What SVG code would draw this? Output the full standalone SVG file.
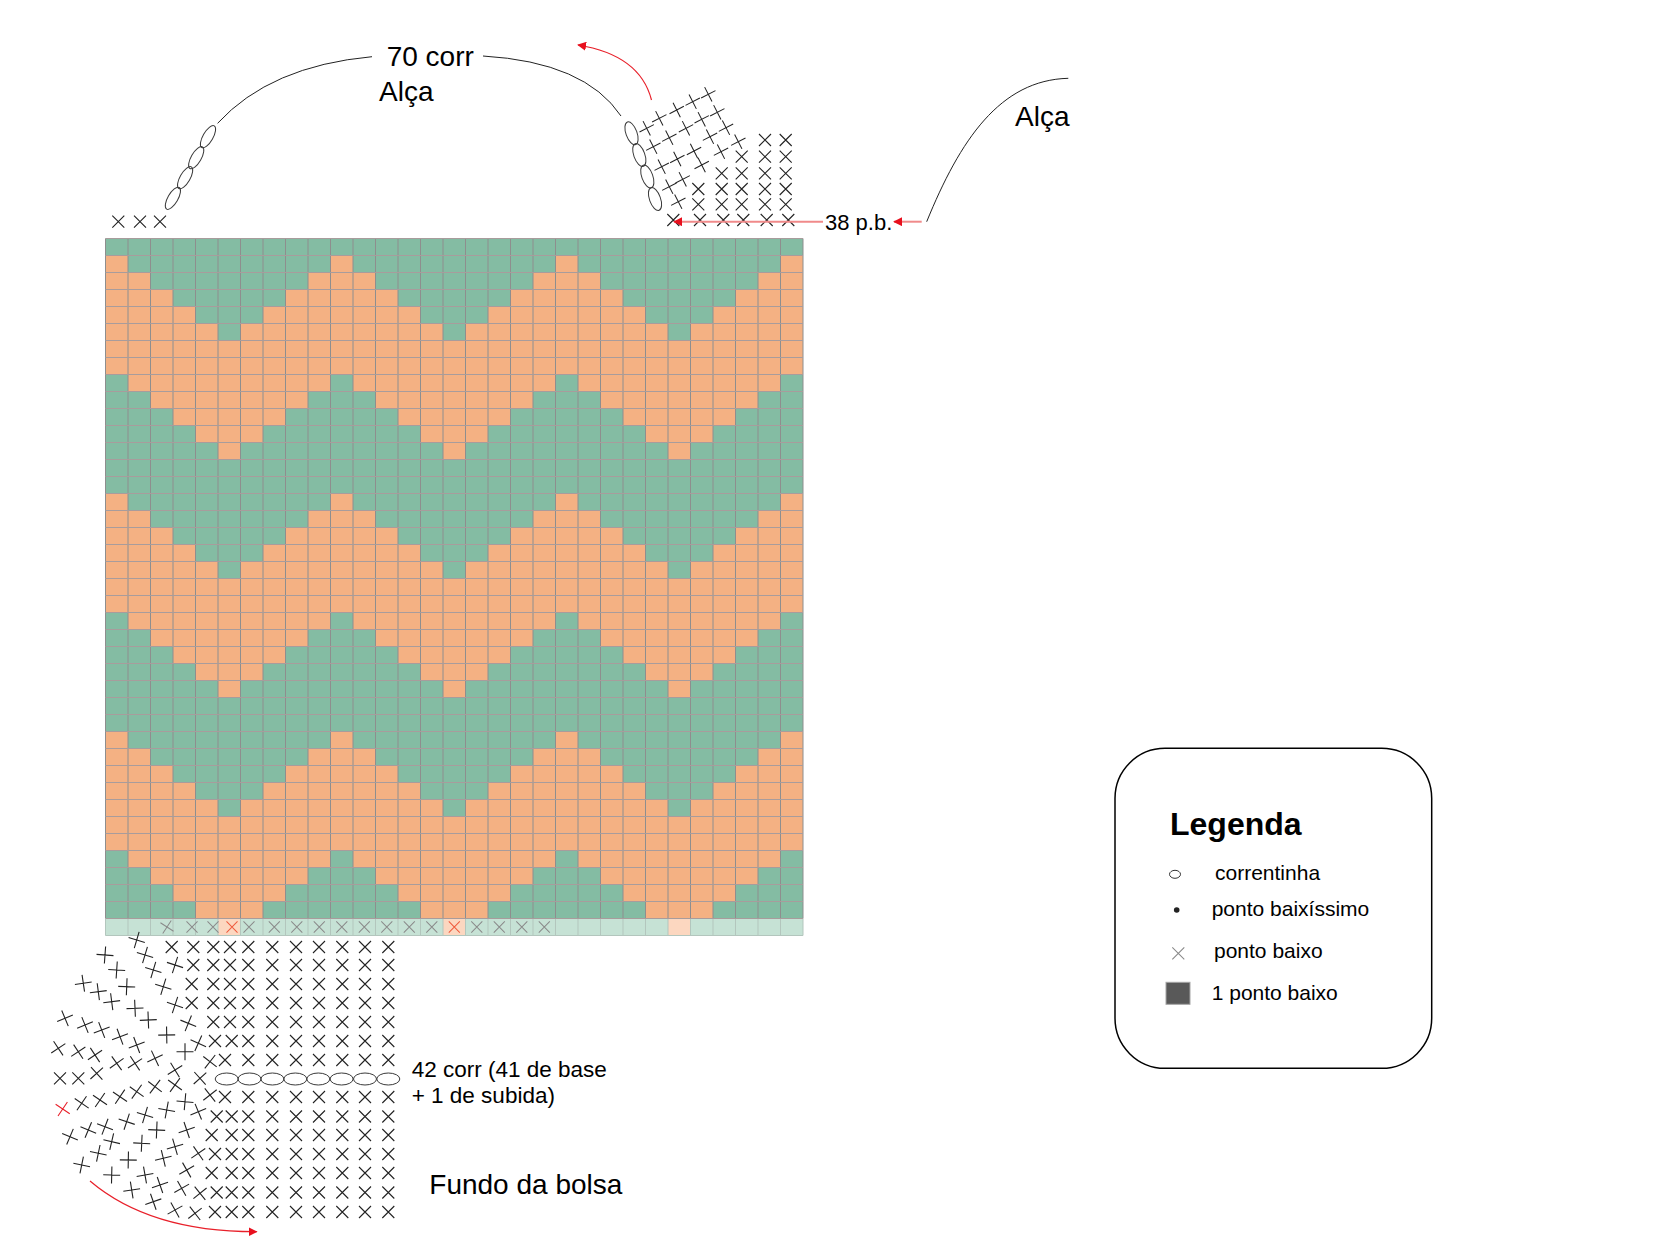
<svg xmlns="http://www.w3.org/2000/svg" width="1667" height="1250" viewBox="0 0 1667 1250">
<style>
text{font-family:"Liberation Sans",Arial,sans-serif;fill:#000}
.k{stroke:#222;stroke-width:1.1;fill:none}
.g{stroke:#8a8a8a;stroke-width:1.1;fill:none}
.rx{stroke:#ef5a3c;stroke-width:1.1;fill:none}
.rk{stroke:#e8202a;stroke-width:1.1;fill:none}
.red{stroke:#e8202a;stroke-width:1.2;fill:none}
.pink{stroke:#f08a8a;stroke-width:2;fill:none}
.ch{fill:none;stroke:#3a3a3a;stroke-width:1}
.cv{fill:none;stroke:#222;stroke-width:1}
.vl{fill:none;stroke:#8e8e8e;stroke-width:1}
.hl{fill:none;stroke:#a89c9c;stroke-width:1}
.ll{fill:none;stroke:#b3c6bd;stroke-width:1}
</style>
<defs>
<path id="x" d="M-6,-6L6,6M-6,6L6,-6"/>
<marker id="ah" viewBox="0 0 10 10" refX="9" refY="5" markerWidth="9" markerHeight="9" markerUnits="userSpaceOnUse" orient="auto"><path d="M0,0L10,5L0,10z" fill="#e8101e"/></marker>
<g id="per" fill="#f4b183">
<rect x="0" y="0" width="1" height="1"/><rect x="10" y="0" width="1" height="1"/><rect x="20" y="0" width="1" height="1"/><rect x="30" y="0" width="1" height="1"/>
<rect x="0" y="1" width="2" height="1"/><rect x="9" y="1" width="3" height="1"/><rect x="19" y="1" width="3" height="1"/><rect x="29" y="1" width="2" height="1"/>
<rect x="0" y="2" width="3" height="1"/><rect x="8" y="2" width="5" height="1"/><rect x="18" y="2" width="5" height="1"/><rect x="28" y="2" width="3" height="1"/>
<rect x="0" y="3" width="4" height="1"/><rect x="7" y="3" width="7" height="1"/><rect x="17" y="3" width="7" height="1"/><rect x="27" y="3" width="4" height="1"/>
<rect x="0" y="4" width="5" height="1"/><rect x="6" y="4" width="9" height="1"/><rect x="16" y="4" width="9" height="1"/><rect x="26" y="4" width="5" height="1"/>
<rect x="0" y="5" width="31" height="2"/>
<rect x="1" y="7" width="9" height="1"/><rect x="11" y="7" width="9" height="1"/><rect x="21" y="7" width="9" height="1"/>
<rect x="2" y="8" width="7" height="1"/><rect x="12" y="8" width="7" height="1"/><rect x="22" y="8" width="7" height="1"/>
<rect x="3" y="9" width="5" height="1"/><rect x="13" y="9" width="5" height="1"/><rect x="23" y="9" width="5" height="1"/>
<rect x="4" y="10" width="3" height="1"/><rect x="14" y="10" width="3" height="1"/><rect x="24" y="10" width="3" height="1"/>
<rect x="5" y="11" width="1" height="1"/><rect x="15" y="11" width="1" height="1"/><rect x="25" y="11" width="1" height="1"/>
</g>
<g id="r7" class="k"><use href="#x" x="248.3"/><use href="#x" x="272.3"/><use href="#x" x="296"/><use href="#x" x="319"/><use href="#x" x="342.3"/><use href="#x" x="365"/><use href="#x" x="388.3"/></g>
</defs>
<rect width="1667" height="1250" fill="#fff"/>

<g id="chart">
<g transform="translate(105.5 238.5) scale(22.5 17)">
<rect width="31" height="40" fill="#84bca3"/>
<use href="#per" y="1"/><use href="#per" y="15"/><use href="#per" y="29"/>
<rect y="40" width="31" height="1" fill="#c6e2d5"/>
<rect x="5" y="40" width="1" height="1" fill="#fcd7c0"/><rect x="15" y="40" width="1" height="1" fill="#fcd7c0"/><rect x="25" y="40" width="1" height="1" fill="#fcd7c0"/>
<path class="vl" vector-effect="non-scaling-stroke" d="M0 0V40M1 0V40M2 0V40M3 0V40M4 0V40M5 0V40M6 0V40M7 0V40M8 0V40M9 0V40M10 0V40M11 0V40M12 0V40M13 0V40M14 0V40M15 0V40M16 0V40M17 0V40M18 0V40M19 0V40M20 0V40M21 0V40M22 0V40M23 0V40M24 0V40M25 0V40M26 0V40M27 0V40M28 0V40M29 0V40M30 0V40M31 0V40"/>
<path class="ll" vector-effect="non-scaling-stroke" d="M0 40V41M1 40V41M2 40V41M3 40V41M4 40V41M5 40V41M6 40V41M7 40V41M8 40V41M9 40V41M10 40V41M11 40V41M12 40V41M13 40V41M14 40V41M15 40V41M16 40V41M17 40V41M18 40V41M19 40V41M20 40V41M21 40V41M22 40V41M23 40V41M24 40V41M25 40V41M26 40V41M27 40V41M28 40V41M29 40V41M30 40V41M31 40V41M0 41H31"/>
<path class="hl" vector-effect="non-scaling-stroke" d="M0 0H31M0 1H31M0 2H31M0 3H31M0 4H31M0 5H31M0 6H31M0 7H31M0 8H31M0 9H31M0 10H31M0 11H31M0 12H31M0 13H31M0 14H31M0 15H31M0 16H31M0 17H31M0 18H31M0 19H31M0 20H31M0 21H31M0 22H31M0 23H31M0 24H31M0 25H31M0 26H31M0 27H31M0 28H31M0 29H31M0 30H31M0 31H31M0 32H31M0 33H31M0 34H31M0 35H31M0 36H31M0 37H31M0 38H31M0 39H31M0 40H31"/>
</g>
<g id="base-row-stitches">
<use href="#x" class="g" transform="translate(167 927) rotate(-12) scale(0.92)"/>
<use href="#x" class="g" transform="translate(192 927) scale(0.92)"/>
<use href="#x" class="g" transform="translate(213 927) scale(0.92)"/>
<use href="#x" class="rx" transform="translate(232 927) scale(0.92)"/>
<use href="#x" class="g" transform="translate(249 927) scale(0.92)"/>
<use href="#x" class="g" transform="translate(274.3 927) scale(0.92)"/>
<use href="#x" class="g" transform="translate(296.8 927) scale(0.92)"/>
<use href="#x" class="g" transform="translate(319.3 927) scale(0.92)"/>
<use href="#x" class="g" transform="translate(341.8 927) scale(0.92)"/>
<use href="#x" class="g" transform="translate(364.3 927) scale(0.92)"/>
<use href="#x" class="g" transform="translate(386.8 927) scale(0.92)"/>
<use href="#x" class="g" transform="translate(409.3 927) scale(0.92)"/>
<use href="#x" class="g" transform="translate(431.8 927) scale(0.92)"/>
<use href="#x" class="rx" transform="translate(454.3 927) scale(0.92)"/>
<use href="#x" class="g" transform="translate(476.8 927) scale(0.92)"/>
<use href="#x" class="g" transform="translate(499.3 927) scale(0.92)"/>
<use href="#x" class="g" transform="translate(521.8 927) scale(0.92)"/>
<use href="#x" class="g" transform="translate(544.3 927) scale(0.92)"/>
</g>
</g>

<g id="handle-left">
<g class="k"><use href="#x" x="118.3" y="221.7"/><use href="#x" x="140" y="221.7"/><use href="#x" x="160" y="221.7"/></g>
<g class="ch">
<ellipse cx="172.9" cy="198.3" rx="5" ry="12.5" transform="rotate(30 172.9 198.3)"/>
<ellipse cx="185.1" cy="177.7" rx="5" ry="12.5" transform="rotate(30 185.1 177.7)"/>
<ellipse cx="196.2" cy="157.7" rx="5" ry="12.5" transform="rotate(30 196.2 157.7)"/>
<ellipse cx="208" cy="136.7" rx="5" ry="12.5" transform="rotate(30 208 136.7)"/>
</g>
<text x="386.7" y="66" font-size="28">70 corr</text>
<text x="379" y="100.7" font-size="28">Alça</text>
</g>

<g id="handle-right">
<g class="ch">
<ellipse cx="631.5" cy="133.3" rx="5.5" ry="12" transform="rotate(-20 631.5 133.3)"/>
<ellipse cx="639.3" cy="155" rx="5.5" ry="12" transform="rotate(-20 639.3 155)"/>
<ellipse cx="647.3" cy="176.5" rx="5.5" ry="12" transform="rotate(-20 647.3 176.5)"/>
<ellipse cx="655" cy="199" rx="5.5" ry="12" transform="rotate(-20 655 199)"/>
</g>
<g class="k">
<use href="#x" x="673.3" y="220"/><use href="#x" x="700" y="220"/><use href="#x" x="723.3" y="220"/><use href="#x" x="743.3" y="220"/><use href="#x" x="766.7" y="220"/><use href="#x" x="788.3" y="220"/>
<use href="#x" x="698.3" y="204.3"/><use href="#x" x="721.7" y="204.3"/><use href="#x" x="741.7" y="204.3"/><use href="#x" x="765" y="204.3"/><use href="#x" x="785.7" y="204.3"/>
<use href="#x" x="698.3" y="189"/><use href="#x" x="721.7" y="189"/><use href="#x" x="741.7" y="189"/><use href="#x" x="765" y="189"/><use href="#x" x="785.7" y="189"/>
<use href="#x" x="721.7" y="173.3"/><use href="#x" x="741.7" y="173.3"/><use href="#x" x="765" y="173.3"/><use href="#x" x="785.7" y="173.3"/>
<use href="#x" x="741.7" y="156.7"/><use href="#x" x="765" y="156.7"/><use href="#x" x="785.7" y="156.7"/>
<use href="#x" x="765" y="140"/><use href="#x" x="785.7" y="140"/>
</g>
<g class="k" stroke-width="1">
<use href="#x" transform="translate(646.7 128.3) rotate(18) scale(0.95)"/>
<use href="#x" transform="translate(659.3 118.3) rotate(18) scale(0.95)"/>
<use href="#x" transform="translate(676.7 110) rotate(18) scale(0.95)"/>
<use href="#x" transform="translate(692.7 101.7) rotate(18) scale(0.95)"/>
<use href="#x" transform="translate(708.3 94.3) rotate(18) scale(0.95)"/>
<use href="#x" transform="translate(653.3 146.7) rotate(18) scale(0.95)"/>
<use href="#x" transform="translate(669.3 137.7) rotate(18) scale(0.95)"/>
<use href="#x" transform="translate(686 128.3) rotate(18) scale(0.95)"/>
<use href="#x" transform="translate(701.7 119.3) rotate(18) scale(0.95)"/>
<use href="#x" transform="translate(717.3 112.3) rotate(18) scale(0.95)"/>
<use href="#x" transform="translate(661.7 166.7) rotate(18) scale(0.95)"/>
<use href="#x" transform="translate(677.3 159) rotate(18) scale(0.95)"/>
<use href="#x" transform="translate(694 151) rotate(18) scale(0.95)"/>
<use href="#x" transform="translate(710 136.7) rotate(18) scale(0.95)"/>
<use href="#x" transform="translate(726 127.7) rotate(18) scale(0.95)"/>
<use href="#x" transform="translate(669.3 186.7) rotate(18) scale(0.95)"/>
<use href="#x" transform="translate(682.7 179.3) rotate(18) scale(0.95)"/>
<use href="#x" transform="translate(701.7 165) rotate(18) scale(0.95)"/>
<use href="#x" transform="translate(721 151.7) rotate(18) scale(0.95)"/>
<use href="#x" transform="translate(738.3 141.7) rotate(18) scale(0.95)"/>
<use href="#x" transform="translate(678.3 201.7) rotate(18) scale(0.95)"/>
</g>
<text x="825" y="230" font-size="22">38 p.b.</text>
<text x="1015" y="125.7" font-size="28">Alça</text>
</g>

<g id="connectors">
<path class="cv" d="M217.6,123.3 Q270,66 372,56.7"/>
<path class="cv" d="M483,56 Q585,62 621,116"/>
<path class="cv" d="M926.7,221.7 C960,140 1000,80 1068.3,78.3"/>
<path class="red" d="M651.5,100 Q640,55 578,45" marker-end="url(#ah)"/>
<path class="pink" d="M823,221.7 H674" marker-end="url(#ah)"/>
<path class="pink" d="M921.7,221.7 H894" marker-end="url(#ah)"/>
<path class="red" d="M90,1181 Q150,1232 256.7,1231.7" marker-end="url(#ah)"/>
</g>

<g id="fundo">
<use href="#r7" y="947"/><use href="#r7" y="965"/><use href="#r7" y="984"/><use href="#r7" y="1003"/><use href="#r7" y="1022"/><use href="#r7" y="1041"/><use href="#r7" y="1060"/>
<use href="#r7" y="1097"/><use href="#r7" y="1116.5"/><use href="#r7" y="1135"/><use href="#r7" y="1154"/><use href="#r7" y="1173"/><use href="#r7" y="1192.5"/><use href="#r7" y="1212"/>
<g class="k">
<use href="#x" x="171.7" y="947"/><use href="#x" x="193.3" y="947"/><use href="#x" x="213.3" y="947"/><use href="#x" x="230" y="947"/>
<use href="#x" x="193.3" y="965"/><use href="#x" x="213.3" y="965"/><use href="#x" x="230" y="965"/>
<use href="#x" x="191.7" y="984"/><use href="#x" x="213.3" y="984"/><use href="#x" x="230" y="984"/>
<use href="#x" x="191.7" y="1003"/><use href="#x" x="213.3" y="1003"/><use href="#x" x="230" y="1003"/>
<use href="#x" x="213.3" y="1022"/><use href="#x" x="230" y="1022"/>
<use href="#x" x="215" y="1041"/><use href="#x" x="231.7" y="1041"/>
<use href="#x" x="225" y="1060"/>
<use href="#x" x="225" y="1097"/>
<use href="#x" x="216.7" y="1116.5"/><use href="#x" x="231.7" y="1116.5"/>
<use href="#x" x="211.7" y="1135"/><use href="#x" x="231.7" y="1135"/>
<use href="#x" x="215" y="1154"/><use href="#x" x="231.7" y="1154"/>
<use href="#x" x="211.7" y="1173"/><use href="#x" x="231.7" y="1173"/>
<use href="#x" x="216.7" y="1192.5"/><use href="#x" x="231.7" y="1192.5"/>
<use href="#x" x="215" y="1212"/><use href="#x" x="231.7" y="1212"/>
<use href="#x" transform="translate(136.7 940) rotate(-28.5)"/>
<use href="#x" transform="translate(105 955) rotate(-40.8)"/>
<use href="#x" transform="translate(145 955) rotate(-28.4)"/>
<use href="#x" transform="translate(116.7 970) rotate(-41.2)"/>
<use href="#x" transform="translate(153.3 970) rotate(-28.3)"/>
<use href="#x" transform="translate(175 965) rotate(-27)"/>
<use href="#x" transform="translate(83.3 983.3) rotate(36.6)"/>
<use href="#x" transform="translate(126.7 986.7) rotate(-42.7)"/>
<use href="#x" transform="translate(98.3 991.7) rotate(37.5)"/>
<use href="#x" transform="translate(163.3 986.7) rotate(-27.8)"/>
<use href="#x" transform="translate(111.7 1001.7) rotate(37.6)"/>
<use href="#x" transform="translate(135 1008.3) rotate(42.5)"/>
<use href="#x" transform="translate(175 1005) rotate(-26.6)"/>
<use href="#x" transform="translate(65 1018.3) rotate(22.4)"/>
<use href="#x" transform="translate(85 1025) rotate(23)"/>
<use href="#x" transform="translate(101.7 1030) rotate(24)"/>
<use href="#x" transform="translate(148.3 1020) rotate(42.8)"/>
<use href="#x" transform="translate(188.3 1023.3) rotate(-23)"/>
<use href="#x" transform="translate(120 1036.7) rotate(24.7)"/>
<use href="#x" transform="translate(136.7 1045) rotate(24.3)"/>
<use href="#x" transform="translate(166.7 1035) rotate(44)"/>
<use href="#x" transform="translate(58.3 1048.3) rotate(11.3)"/>
<use href="#x" transform="translate(78.3 1051.7) rotate(11.6)"/>
<use href="#x" transform="translate(95 1055) rotate(11.6)"/>
<use href="#x" transform="translate(198.3 1043.3) rotate(-21)"/>
<use href="#x" transform="translate(185 1051.7) rotate(45)"/>
<use href="#x" transform="translate(155 1058.3) rotate(20)"/>
<use href="#x" transform="translate(116.7 1063.3) rotate(9.3)"/>
<use href="#x" transform="translate(135 1063.3) rotate(11.5)"/>
<use href="#x" transform="translate(210 1061.7) rotate(-7)"/>
<use href="#x" transform="translate(60 1078.3)"/>
<use href="#x" transform="translate(78.3 1078.3)"/>
<use href="#x" transform="translate(96.7 1073.3) rotate(2.8)"/>
<use href="#x" transform="translate(175 1070) rotate(13.7)"/>
<use href="#x" transform="translate(200 1078.3) rotate(3)"/>
<use href="#x" transform="translate(155 1086.7) rotate(-7.7)"/>
<use href="#x" transform="translate(175 1085) rotate(-9.2)"/>
<use href="#x" transform="translate(136.7 1091.7) rotate(-9.5)"/>
<use href="#x" transform="translate(120 1096.7) rotate(-10.9)"/>
<use href="#x" transform="translate(100 1100) rotate(-10.6)"/>
<use href="#x" transform="translate(81.7 1103.3) rotate(-10.6)"/>
<use href="#x" transform="translate(210 1095) rotate(7)"/>
<use href="#x" transform="translate(185 1101.7) rotate(-40)"/>
<use href="#x" transform="translate(166.7 1110) rotate(-34.4)"/>
<use href="#x" transform="translate(198.3 1111.7) rotate(22.7)"/>
<use href="#x" transform="translate(145 1115) rotate(-28.2)"/>
<use href="#x" transform="translate(126.7 1121.7) rotate(-26.6)"/>
<use href="#x" transform="translate(105 1126.7) rotate(-24)"/>
<use href="#x" transform="translate(88.3 1130) rotate(-22.4)"/>
<use href="#x" transform="translate(70 1136.7) rotate(-22.1)"/>
<use href="#x" transform="translate(156.7 1130) rotate(-42.7)"/>
<use href="#x" transform="translate(186.7 1130) rotate(26.4)"/>
<use href="#x" transform="translate(111.7 1141.7) rotate(-32)"/>
<use href="#x" transform="translate(141.7 1143.3) rotate(-42.4)"/>
<use href="#x" transform="translate(175 1146.7) rotate(28.7)"/>
<use href="#x" transform="translate(98.3 1153.3) rotate(-33.2)"/>
<use href="#x" transform="translate(198.3 1153.3) rotate(10.4)"/>
<use href="#x" transform="translate(81.7 1165) rotate(-33.4)"/>
<use href="#x" transform="translate(128.3 1160) rotate(-44)"/>
<use href="#x" transform="translate(163.3 1158.3) rotate(31.5)"/>
<use href="#x" transform="translate(111.7 1175) rotate(-43.7)"/>
<use href="#x" transform="translate(186.7 1170) rotate(15.6)"/>
<use href="#x" transform="translate(145 1175) rotate(35)"/>
<use href="#x" transform="translate(160 1185) rotate(26.1)"/>
<use href="#x" transform="translate(131.7 1190) rotate(36)"/>
<use href="#x" transform="translate(181.7 1188.3) rotate(15.5)"/>
<use href="#x" transform="translate(200 1193.3) rotate(6)"/>
<use href="#x" transform="translate(153.3 1201.7) rotate(25.6)"/>
<use href="#x" transform="translate(175 1210) rotate(15.8)"/>
<use href="#x" transform="translate(195 1213.3) rotate(7.2)"/>
</g>
<use href="#x" class="rk" transform="translate(62.7 1109) rotate(-11.4)"/>
<g class="ch">
<ellipse cx="226.7" cy="1079" rx="11.5" ry="6"/><ellipse cx="249.5" cy="1079" rx="11.5" ry="6"/><ellipse cx="272.4" cy="1079" rx="11.5" ry="6"/><ellipse cx="295.3" cy="1079" rx="11.5" ry="6"/><ellipse cx="318.3" cy="1079" rx="11.5" ry="6"/><ellipse cx="341.6" cy="1079" rx="11.5" ry="6"/><ellipse cx="365" cy="1079" rx="11.5" ry="6"/><ellipse cx="388.3" cy="1079" rx="11.5" ry="6"/>
</g>
<text x="411.7" y="1077.3" font-size="22.5">42 corr (41 de base</text>
<text x="411.7" y="1103.3" font-size="22.5">+ 1 de subida)</text>
<text x="429.3" y="1194" font-size="28">Fundo da bolsa</text>
</g>

<g id="legend">
<rect x="1115" y="748.3" width="316.7" height="320" rx="50" ry="50" fill="#fff" stroke="#000" stroke-width="1.5"/>
<text x="1170" y="835" font-size="32" font-weight="bold">Legenda</text>
<ellipse cx="1175" cy="874.3" rx="5.5" ry="4" fill="none" stroke="#333" stroke-width="1"/>
<text x="1215" y="880" font-size="21">correntinha</text>
<circle cx="1176.7" cy="910" r="2.8" fill="#222"/>
<text x="1211.7" y="915.7" font-size="21">ponto baixíssimo</text>
<use href="#x" class="g" x="1178.3" y="953.3"/>
<text x="1214" y="958.3" font-size="21">ponto baixo</text>
<rect x="1166" y="982.3" width="24" height="22" fill="#595959" stroke="#a6a6a6" stroke-width="1"/>
<text x="1211.7" y="1000" font-size="21">1 ponto baixo</text>
</g>
</svg>
